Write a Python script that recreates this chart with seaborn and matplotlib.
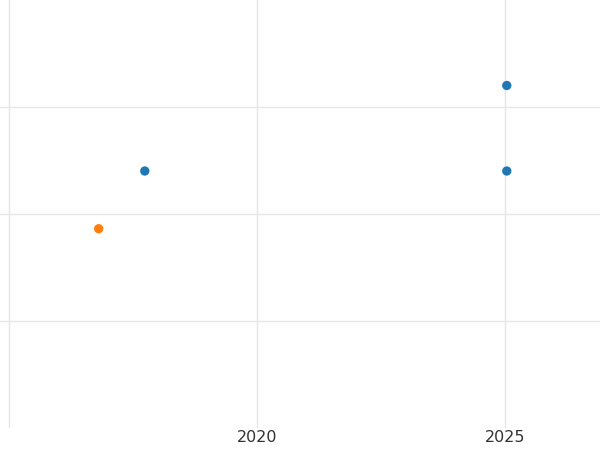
import matplotlib
matplotlib.use("Agg")
import matplotlib.pyplot as plt
import seaborn as sns
import pandas as pd

years = [2017.74, 2025.04, 2025.04, 2016.81]
values = [24.0, 32.0, 24.0, 18.6]
groups = ["A", "A", "A", "B"]
xtick_vals = [2015, 2020, 2025]
xtick_labels = ["", "2020", "2025"]
ytick_vals = [10, 20, 30]

df = pd.DataFrame({"year": years, "value": values, "group": groups})

sns.set_theme(style="whitegrid")
fig = plt.figure(figsize=(6, 4.5), dpi=100)
ax = fig.add_axes([0, 0.05, 1, 0.95])
sns.scatterplot(data=df, x="year", y="value", hue="group",
                palette=["#1f77b4", "#ff7f0e"], s=45, edgecolor="none",
                legend=False, ax=ax)
ax.set_xlim(2014.82, 2026.92)
ax.set_ylim(0, 40)
ax.set_xticks(xtick_vals)
ax.set_xticklabels(xtick_labels)
ax.set_yticks(ytick_vals)
ax.set_yticklabels([])
ax.set_xlabel("")
ax.set_ylabel("")
ax.grid(True, color="#e6e6e6", linewidth=1)
for s in ax.spines.values():
    s.set_visible(False)
ax.tick_params(axis="x", colors="#333333", labelsize=11.5, length=0, pad=2)
ax.tick_params(axis="y", length=0)
fig.savefig("out.png")
